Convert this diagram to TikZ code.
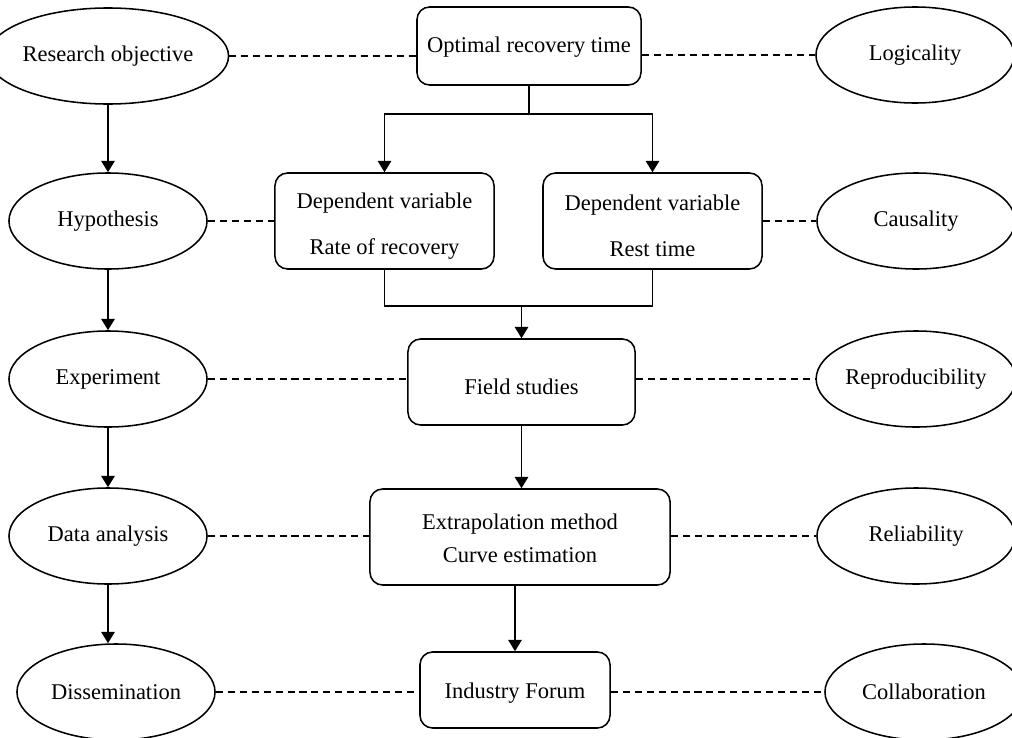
\documentclass[tikz,border=0pt]{standalone}
\usepackage{fontspec}
\setmainfont{Liberation Serif}
\usetikzlibrary{shapes.geometric,arrows.meta}

\begin{document}
\begin{tikzpicture}[x=0.025cm, y=-0.025cm,
  every node/.style={font=\fontsize{16}{19}\selectfont},
  oval/.style={draw, ellipse, line width=1.1pt, minimum width=4.95cm, minimum height=2.4cm, inner sep=0pt},
  stage/.style={draw, rounded corners=9pt, line width=1.1pt, align=center, inner sep=0pt},
  arr/.style={line width=1.1pt, -{Triangle[length=8pt,width=9.5pt]}},
  link/.style={line width=0.9pt, dash pattern=on 5pt off 3.5pt}]

\useasboundingbox (0,0) rectangle (1012,737);

% method column
\node[oval] (ro) at (108,56) {Research objective};
\node[oval] (hy) at (108,221) {Hypothesis};
\node[oval] (xp) at (108,379) {Experiment};
\node[oval] (da) at (108,536) {Data analysis};
\node[oval] (di) at (116,692) {Dissemination};

% study column
\node[stage, minimum width=5.6cm, minimum height=1.95cm] (ort) at (529,46) {\rule{0pt}{13pt}Optimal recovery time};
\node[stage, minimum width=5.475cm, minimum height=2.4cm] (dvl) at (384.5,221) {\rule{0pt}{18pt}Dependent variable\\[13.7pt]Rate of recovery};
\node[stage, minimum width=5.475cm, minimum height=2.4cm] (dvr) at (652.5,221) {\rule{0pt}{18pt}Dependent variable\\[13.7pt]Rest time};
\node[stage, minimum width=5.675cm, minimum height=2.15cm] (fs) at (521.5,382) {\rule{0pt}{18pt}Field studies};
\node[stage, minimum width=7.5cm, minimum height=2.4cm] (ex) at (520,537) {\rule{0pt}{13pt}Extrapolation method\\[4.4pt]Curve estimation};
\node[stage, minimum width=4.75cm, minimum height=1.9cm] (if) at (515,690) {\rule{0pt}{15pt}Industry Forum};

% criteria column
\node[oval] (lo) at (915,55) {Logicality};
\node[oval] (ca) at (916,221) {Causality};
\node[oval] (rp) at (916,379) {Reproducibility};
\node[oval] (re) at (916,536) {Reliability};
\node[oval] (co) at (924,692) {Collaboration};

\begin{scope}[arr]
\draw (ro) -- (hy);
\draw (hy) -- (xp);
\draw (xp) -- (da);
\draw (da.south) -- (da.south |- di.north); %da-di
\draw (ort.south) -- ++(0,28) coordinate (split) -| (dvl.north);
\draw (split) -| (dvr.north);
\draw (fs.south) -- (fs.south |- ex.north); %fs-ex
\draw (ex.south -| if.north) -- (if.north); %ex-if
\end{scope}

% merge of the two variables
\draw[line width=1.1pt] (dvl.south) -- ++(0,36) coordinate (mj) -| (dvr.south);
\draw[arr] (mj -| fs.north) -- (fs.north);

\begin{scope}[link]
\draw (ro.east) -- (ro.east -| ort.west);
\draw (ort.east |- lo.west) -- (lo.west);
\draw (hy.east) -- (dvl.west);
\draw (dvr.east) -- (ca.west);
\draw (xp.east) -- (xp.east -| fs.west);
\draw (fs.east |- rp.west) -- (rp.west);
\draw (da.east) -- (da.east -| ex.west);
\draw (ex.east |- re.west) -- (re.west);
\draw (di.east) -- (di.east -| if.west);
\draw (if.east |- co.west) -- (co.west);
\end{scope}

\end{tikzpicture}
\end{document}
